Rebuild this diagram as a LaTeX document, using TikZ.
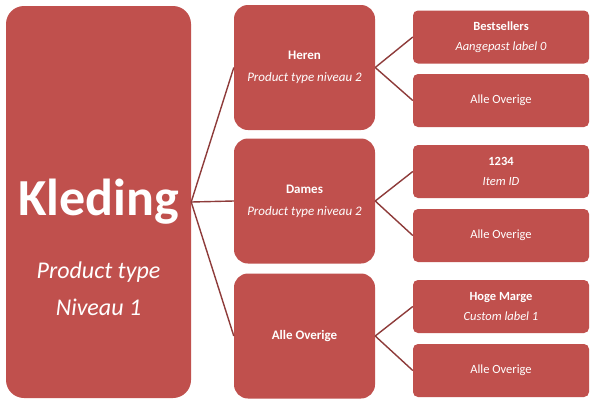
\documentclass[tikz,border=0pt]{standalone}
\usepackage{fontspec}
\setmainfont{Carlito}
\usepackage{xcolor}
\usetikzlibrary{positioning}
\definecolor{boxred}{HTML}{C0504D}
\definecolor{linkred}{HTML}{8E3B3A}

\begin{document}
\begin{tikzpicture}[x=1pt, y=-1pt,
    box/.style={fill=boxred, draw=none, text=white, inner sep=0pt, align=center},
    bigbox/.style={box, rounded corners=18pt, minimum width=185pt, minimum height=392pt,
        font=\fontsize{52}{52}\selectfont\bfseries},
    bigsub/.style={text=white, align=center, inner sep=0pt, font=\fontsize{24}{37}\selectfont\itshape},
    midbox/.style={box, rounded corners=14pt, minimum width=141pt, minimum height=125pt,
        font=\fontsize{13}{22}\selectfont},
    leafbox/.style={box, rounded corners=5pt, minimum width=176pt, minimum height=53pt,
        font=\fontsize{12.5}{20}\selectfont},
    link/.style={draw=linkred, line width=1.4pt}]
    \useasboundingbox[fill=white] (0,0) rectangle (595,405);

    % Level 1
    \node[bigbox] (kleding) at (98.5,202) {Kleding};
    \node[bigsub] (klsub) at (98.5,289) {Product type\\Niveau 1};

    % Level 2
    \node[midbox] (heren) at (304.5,67.5) {\textbf{Heren}\\\textit{Product type niveau 2}};
    \node[midbox] (dames) at (304.5,201) {\textbf{Dames}\\\textit{Product type niveau 2}};
    \node[midbox] (overig) at (304.5,336) {\textbf{Alle Overige}};

    % Level 3
    \node[leafbox] (bestsel) at (501,37) {\textbf{Bestsellers}\\\textit{Aangepast label 0}};
    \node[leafbox] (alleA) at (501,100.5) {Alle Overige};
    \node[leafbox] (item) at (501,171.5) {\textbf{1234}\\\textit{Item ID}};
    \node[leafbox] (alleB) at (501,235.5) {Alle Overige};
    \node[leafbox] (marge) at (501,306.5) {\textbf{Hoge Marge}\\\textit{Custom label 1}};
    \node[leafbox] (alleC) at (501,370.5) {Alle Overige};

    % Connectors
    \draw[link] (kleding.east) -- (heren.west);
    \draw[link] (kleding.east) -- (dames.west);
    \draw[link] (kleding.east) -- (overig.west);
    \draw[link] (heren.east) -- (bestsel.west);
    \draw[link] (heren.east) -- (alleA.west);
    \draw[link] (dames.east) -- (item.west);
    \draw[link] (dames.east) -- (alleB.west);
    \draw[link] (overig.east) -- (marge.west);
    \draw[link] (overig.east) -- (alleC.west);
\end{tikzpicture}
\end{document}
